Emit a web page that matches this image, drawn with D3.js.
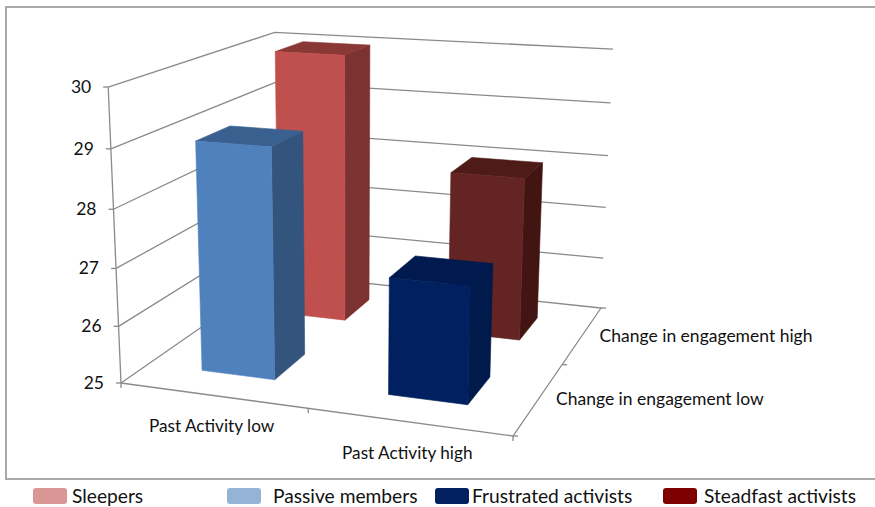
<!DOCTYPE html>
<html>
<head>
<meta charset="utf-8">
<script src="https://cdn.jsdelivr.net/npm/d3@7"></script>
<style>
  html, body { margin: 0; padding: 0; background: #fff; }
  text { font-family: Lato, "Open Sans", sans-serif; fill: #111; }
</style>
</head>
<body>
<svg id="chart" width="875" height="507"></svg>
<script>
// Chart content
const activityLevels = ["Past Activity low", "Past Activity high"];
const engagementLevels = ["Change in engagement low", "Change in engagement high"];
const seriesNames = ["Sleepers", "Passive members", "Frustrated activists", "Steadfast activists"];
const seriesActivity = [0, 0, 1, 1];
const seriesEngagement = [1, 0, 0, 1];
const seriesValues = [30, 29, 27, 28];
const valueTicks = [25, 26, 27, 28, 29, 30];

// Face colours per series: front, top, side, legend swatch
const frontColors = ["#C0504D", "#4F81BD", "#002060", "#632423"];
const topColors = ["#8A3836", "#3A6090", "#001A4F", "#4E1B18"];
const sideColors = ["#7C3230", "#33547D", "#001A4C", "#431512"];
const legendColors = ["#D99694", "#95B3D7", "#002060", "#7F0000"];
const legendX = [33, 227, 435, 663];
const legendWidths = [34, 34, 34, 34];
const legendTextX = [72, 273, 472, 704];

// Camera: floor corners on the page, the point where verticals meet, and the
// homogeneous weight that sets the height of the box
const floorQuad = [[121, 383], [513, 436], [601, 308], [278, 274]];
const verticalVanish = [351, 5700];
const heightWeight = -0.05273;

// Perspective transform of the unit floor square, returning homogeneous coordinates
function floorTransform(q) {
  const [[x0, y0], [x1, y1], [x2, y2], [x3, y3]] = q;
  const dx1 = x1 - x2, dx2 = x3 - x2, sx = x0 - x1 + x2 - x3;
  const dy1 = y1 - y2, dy2 = y3 - y2, sy = y0 - y1 + y2 - y3;
  const det = dx1 * dy2 - dx2 * dy1;
  const g = (sx * dy2 - dx2 * sy) / det;
  const h = (dx1 * sy - sx * dy1) / det;
  const a = x1 - x0 + g * x1, b = x3 - x0 + h * x3;
  const d = y1 - y0 + g * y1, e = y3 - y0 + h * y3;
  return (u, v) => [a * u + b * v + x0, d * u + e * v + y0, g * u + h * v + 1];
}

const floorAt = floorTransform(floorQuad);

const valueScale = d3.scaleLinear().domain([25, 30]).range([0, 1]);
const activityScale = d3.scaleBand().domain(d3.range(activityLevels.length)).range([0, 1])
  .paddingInner(0.6).paddingOuter(0.3);
const engagementScale = d3.scaleBand().domain(d3.range(engagementLevels.length)).range([0, 1])
  .paddingInner(0.6).paddingOuter(0.3);

// Projects a box coordinate (width, depth, value) to the page
function project(u, v, value) {
  const t = valueScale(value) * heightWeight;
  const [X, Y, W] = floorAt(u, v);
  const w = W + t;
  return [(X + t * verticalVanish[0]) / w, (Y + t * verticalVanish[1]) / w];
}

const svg = d3.select("#chart");
const lineGen = d3.line();
const axisColor = "#8a8a8a";

// Chart frame
svg.append("rect").attr("x", 6).attr("y", 7).attr("width", 875).attr("height", 472)
  .attr("fill", "#fff").attr("stroke", "#a0a0a0").attr("stroke-width", 1.8);

const grid = svg.append("g").attr("fill", "none").attr("stroke", axisColor).attr("stroke-width", 1.3);

// Gridlines running along the left wall and the back wall
valueTicks.forEach(val => {
  grid.append("path").attr("d", lineGen([project(0, 0, val), project(0, 1, val), project(1, 1, val)]));
  const p = project(0, 0, val);
  grid.append("path").attr("d", lineGen([p, [p[0] - 5, p[1]]]));
});

// Value axis and floor edges with their tick marks
grid.append("path").attr("d", lineGen([project(0, 0, 30), project(0, 0, 25)]));
grid.append("path").attr("d", lineGen([project(0, 0, 25), project(1, 0, 25), project(1, 1, 25)]));
[0, 0.5, 1].forEach(u => {
  const p = project(u, 0, 25);
  grid.append("path").attr("d", lineGen([p, [p[0], p[1] + 5]]));
});
[0, 0.5, 1].forEach(v => {
  const p = project(1, v, 25);
  grid.append("path").attr("d", lineGen([p, [p[0] + 5, p[1]]]));
});

// Value labels
svg.append("g").selectAll("text").data(valueTicks).join("text")
  .attr("x", d => project(0, 0, d)[0] - 17)
  .attr("y", d => project(0, 0, d)[1] + 6)
  .attr("text-anchor", "end")
  .attr("font-size", 17.5)
  .text(d => d);

// Category labels along the floor edges
svg.append("g").selectAll("text").data(activityLevels).join("text")
  .attr("x", (d, i) => project(activityScale(i) + activityScale.bandwidth() / 2, 0, 25)[0] - 1)
  .attr("y", (d, i) => project(activityScale(i) + activityScale.bandwidth() / 2, 0, 25)[1] + 37)
  .attr("text-anchor", "middle")
  .attr("font-size", 17.2)
  .text(d => d);

svg.append("g").selectAll("text").data(engagementLevels).join("text")
  .attr("x", (d, i) => project(1, engagementScale(i) + engagementScale.bandwidth() / 2, 25)[0] + 17)
  .attr("y", (d, i) => project(1, engagementScale(i) + engagementScale.bandwidth() / 2, 25)[1] + 7)
  .attr("font-size", 17.5)
  .text(d => d);

// Bars, far row first so nearer ones overlap them
const drawOrder = d3.range(seriesNames.length).sort((a, b) =>
  d3.descending(seriesEngagement[a], seriesEngagement[b]) || d3.ascending(seriesActivity[a], seriesActivity[b]));

const bars = svg.append("g").selectAll("g").data(drawOrder).join("g");
bars.each(function (i) {
  const g = d3.select(this);
  const u0 = activityScale(seriesActivity[i]), u1 = u0 + activityScale.bandwidth();
  const v0 = engagementScale(seriesEngagement[i]), v1 = v0 + engagementScale.bandwidth();
  const val = seriesValues[i];
  const face = (color, pts) => g.append("path")
    .attr("fill", color).attr("stroke", color).attr("stroke-width", 0.6).attr("stroke-linejoin", "round")
    .attr("d", lineGen(pts) + "Z");
  face(sideColors[i], [project(u1, v0, 25), project(u1, v1, 25), project(u1, v1, val), project(u1, v0, val)]);
  face(topColors[i], [project(u0, v0, val), project(u1, v0, val), project(u1, v1, val), project(u0, v1, val)]);
  face(frontColors[i], [project(u0, v0, 25), project(u1, v0, 25), project(u1, v0, val), project(u0, v0, val)]);
});

// Legend
const legend = svg.append("g").selectAll("g").data(seriesNames).join("g");
legend.append("rect")
  .attr("x", (d, i) => legendX[i]).attr("y", 488)
  .attr("width", (d, i) => legendWidths[i]).attr("height", 16).attr("rx", 3)
  .attr("fill", (d, i) => legendColors[i]);
legend.append("text")
  .attr("x", (d, i) => legendTextX[i]).attr("y", 503)
  .attr("font-size", 19.2)
  .text(d => d);
</script>
</body>
</html>
